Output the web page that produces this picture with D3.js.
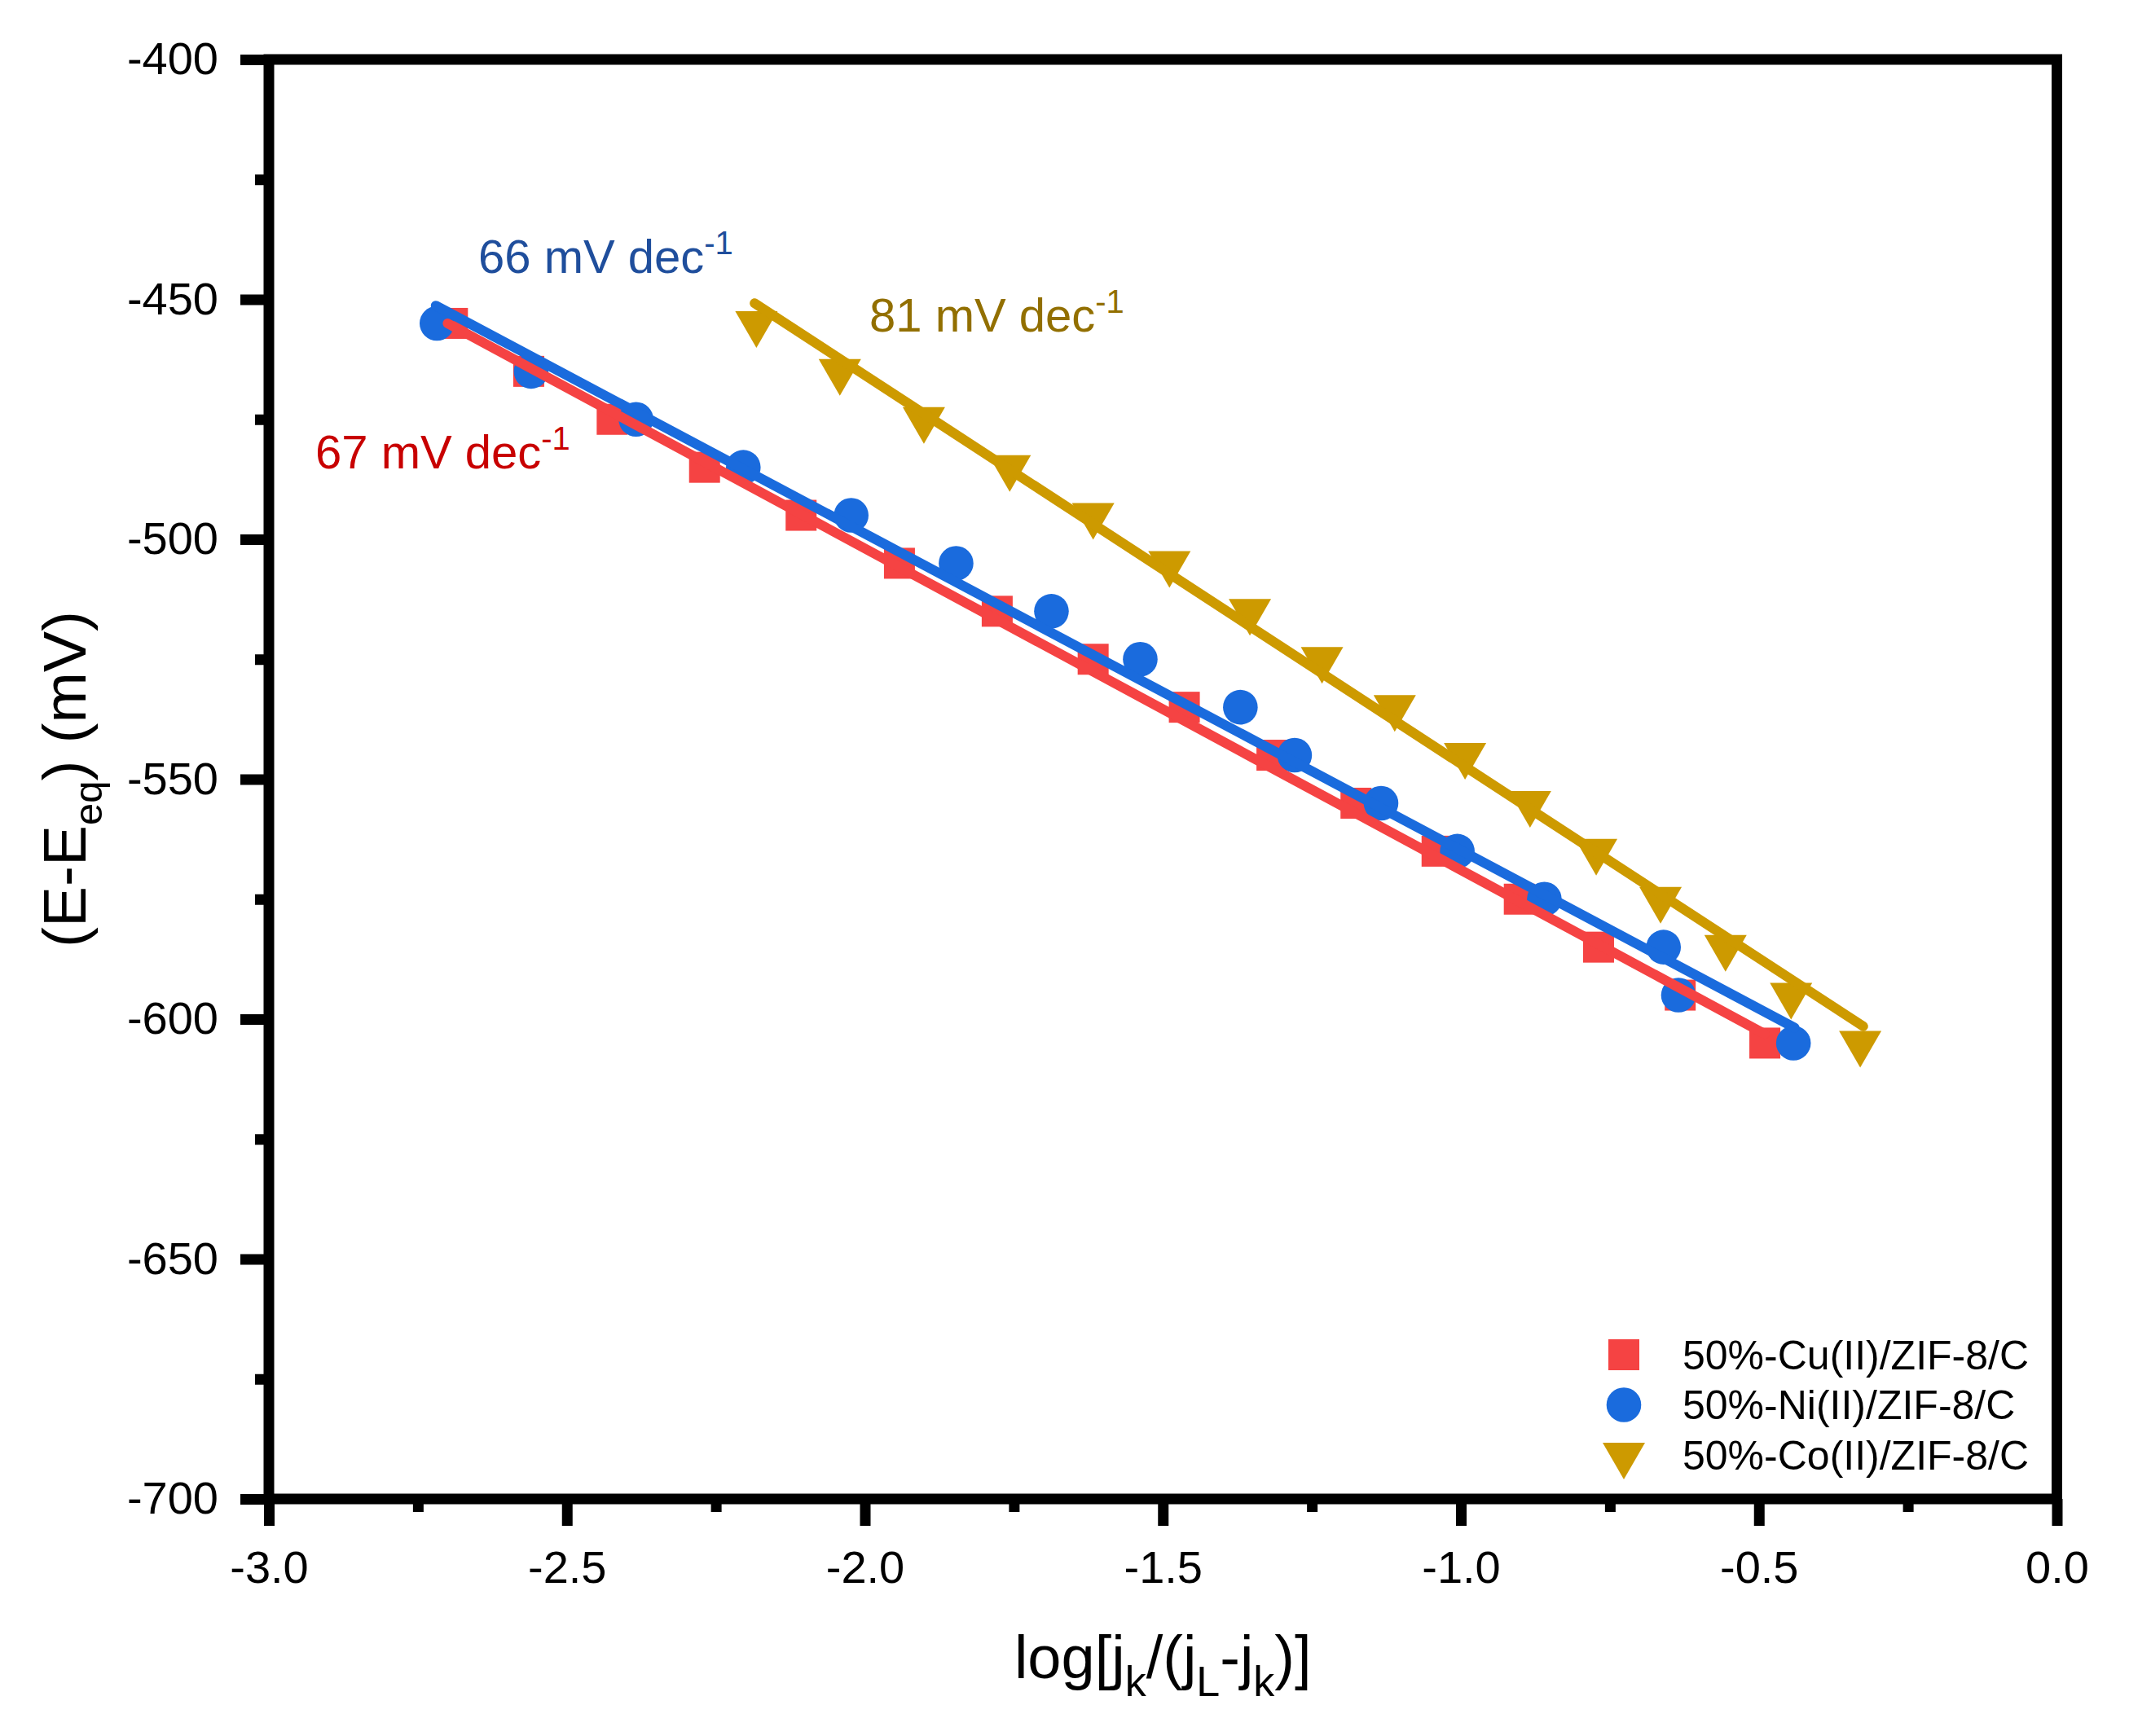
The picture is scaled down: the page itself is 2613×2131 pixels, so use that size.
<!DOCTYPE html>
<html>
<head>
<meta charset="utf-8">
<script src="https://cdn.jsdelivr.net/npm/d3@7/dist/d3.min.js"></script>
<style>
  body { margin: 0; background: #fff; }
  svg { display: block; }
  text { font-family: "Liberation Sans", Arial, sans-serif; }
</style>
</head>
<body>
<svg id="chart"></svg>
<script>
// config
const W = 2613, H = 2131;
const margin = {top: 73, right: 88.5, bottom: 291, left: 330};

// data
const potentials = [-455, -465, -475, -485, -495, -505, -515, -525, -535, -545, -555, -565, -575, -585, -595, -605];
const cuX = [-2.692, -2.564, -2.424, -2.269, -2.107, -1.942, -1.778, -1.617, -1.464, -1.317, -1.176, -1.040, -0.902, -0.769, -0.632, -0.490];
const niX = [-2.718, -2.560, -2.384, -2.204, -2.023, -1.847, -1.687, -1.538, -1.370, -1.279, -1.134, -1.006, -0.860, -0.660, -0.635, -0.442];
const coX = [-2.182, -2.042, -1.901, -1.757, -1.617, -1.489, -1.354, -1.233, -1.111, -0.993, -0.884, -0.773, -0.665, -0.556, -0.446, -0.330];

// linear fit end points
const cuFit = [[-2.700, -455.0], [-0.490, -603.1]];
const niFit = [[-2.720, -451.3], [-0.440, -601.8]];
const coFit = [[-2.185, -450.8], [-0.325, -601.5]];

const seriesNames = ["50%-Cu(II)/ZIF-8/C", "50%-Ni(II)/ZIF-8/C", "50%-Co(II)/ZIF-8/C"];
const slopeLabels = ["67", "66", "81"];

const xTicks = [-3.0, -2.5, -2.0, -1.5, -1.0, -0.5, 0.0];
const xMinor = [-2.75, -2.25, -1.75, -1.25, -0.75, -0.25];
const yTicks = [-400, -450, -500, -550, -600, -650, -700];
const yMinor = [-425, -475, -525, -575, -625, -675];

const colors = ["#F54343", "#1A6BDD", "#CD9A00"];
const textColors = ["#C80000", "#1F4E9C", "#926F00"];
const shapes = ["square", "circle", "triangle"];

const series = seriesNames.map((name, i) => ({
    name: name,
    xs: [cuX, niX, coX][i],
    fit: [cuFit, niFit, coFit][i],
    color: colors[i],
    shape: shapes[i]
}));

const svg = d3.select("#chart").attr("width", W).attr("height", H);
svg.append("rect").attr("width", W).attr("height", H).attr("fill", "#fff");

const x = d3.scaleLinear().domain([-3, 0]).range([margin.left, W - margin.right]);
const y = d3.scaleLinear().domain([-400, -700]).range([margin.top, H - margin.bottom]);

function drawMarker(g, shape, cx, cy, color){
    if (shape === "square")
        g.append("rect").attr("x", cx - 19).attr("y", cy - 19).attr("width", 38).attr("height", 38).attr("fill", color);
    else if (shape === "circle")
        g.append("circle").attr("cx", cx).attr("cy", cy).attr("r", 21.3).attr("fill", color);
    else
        g.append("path").attr("d", `M${cx-26},${cy-15}L${cx+26},${cy-15}L${cx},${cy+30}Z`).attr("fill", color);
}

// scatter
const gPts = svg.append("g");
series.forEach(s => {
    const g = gPts.append("g");
    s.xs.forEach((xv, i) => drawMarker(g, s.shape, x(xv), y(potentials[i]), s.color));
});

// fit lines
const line = d3.line().x(d => x(d[0])).y(d => y(d[1]));
svg.append("g").selectAll("path").data(series).join("path")
    .attr("d", d => line(d.fit))
    .attr("fill", "none")
    .attr("stroke", d => d.color)
    .attr("stroke-width", 12)
    .attr("stroke-linecap", "round");

// axes
function styleAxis(g){
    g.select(".domain").remove();
    g.selectAll(".tick line").attr("stroke", "#000").attr("stroke-width", 13);
    g.selectAll(".tick text").attr("fill", "#000").style("font-size", "56px");
}
svg.append("g").attr("transform", `translate(${margin.left},0)`)
    .call(d3.axisLeft(y).tickValues(yTicks).tickSize(35).tickPadding(27).tickFormat(d => d.toFixed(0)))
    .call(styleAxis);
svg.append("g").attr("transform", `translate(${margin.left},0)`)
    .call(d3.axisLeft(y).tickValues(yMinor).tickSize(17).tickFormat(""))
    .call(styleAxis);
svg.append("g").attr("transform", `translate(0,${H - margin.bottom})`)
    .call(d3.axisBottom(x).tickValues(xTicks).tickSize(33).tickPadding(30).tickFormat(d => d.toFixed(1)))
    .call(styleAxis);
svg.append("g").attr("transform", `translate(0,${H - margin.bottom})`)
    .call(d3.axisBottom(x).tickValues(xMinor).tickSize(16).tickFormat(""))
    .call(styleAxis);

// frame
svg.append("rect")
    .attr("x", x(-3)).attr("y", y(-400))
    .attr("width", x(0) - x(-3)).attr("height", y(-700) - y(-400))
    .attr("fill", "none").attr("stroke", "#000").attr("stroke-width", 13);

// axis titles
const yt = svg.append("text")
    .attr("transform", `translate(105,${(y(-400) + y(-700)) / 2}) rotate(-90)`)
    .attr("text-anchor", "middle").style("font-size", "75px");
yt.append("tspan").text("(E-E");
yt.append("tspan").attr("dy", 20).style("font-size", "49px").text("eq");
yt.append("tspan").attr("dy", -20).text(") (mV)");

const xt = svg.append("text")
    .attr("x", (x(-3) + x(0)) / 2).attr("y", 2060)
    .attr("text-anchor", "middle").style("font-size", "74px");
[["log[j", 0], ["k", 1], ["/(j", 0], ["L", 1], ["-j", 0], ["k", 1], [")]", 0]].forEach((p, i, arr) => {
    const prevSub = i > 0 && arr[i - 1][1];
    const ts = xt.append("tspan").text(p[0]);
    if (p[1]) ts.attr("dy", 22).style("font-size", "52px");
    else if (prevSub) ts.attr("dy", -22);
});

// slope labels
const labelPos = [[387, 575], [587, 335], [1067, 407]];
slopeLabels.forEach((v, i) => {
    const t = svg.append("text").attr("x", labelPos[i][0]).attr("y", labelPos[i][1])
        .attr("fill", textColors[i]).style("font-size", "58px");
    t.append("tspan").text(v + " mV dec");
    t.append("tspan").attr("dy", -23).style("font-size", "40px").text("-1");
});

// legend
const legend = svg.append("g");
series.forEach((s, i) => {
    const cy = 1663 + i * 61.5;
    drawMarker(legend, s.shape, 1993, cy, s.color);
    legend.append("text").attr("x", 2065).attr("y", cy + 17.5)
        .attr("fill", "#000").style("font-size", "50px").text(s.name);
});
</script>
</body>
</html>
